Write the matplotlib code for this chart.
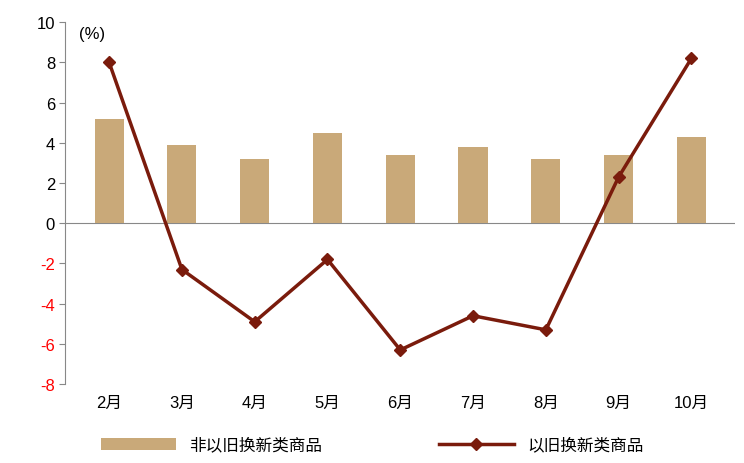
import matplotlib.pyplot as plt
import numpy as np

plt.rcParams['font.family'] = ['Liberation Sans', 'Noto Sans CJK SC', 'DejaVu Sans']

months = ['2月', '3月', '4月', '5月', '6月', '7月', '8月', '9月', '10月']
non_trade_in = [5.2, 3.9, 3.2, 4.5, 3.4, 3.8, 3.2, 3.4, 4.3]
trade_in = [8.0, -2.3, -4.9, -1.8, -6.3, -4.6, -5.3, 2.3, 8.2]
yticks = list(range(-8, 11, 2))

fig = plt.figure(figsize=(7.44, 4.64), dpi=100)
ax = fig.add_axes([0.088, 0.17, 0.9, 0.78])
x = np.arange(len(months))
bars = ax.bar(x, non_trade_in, width=0.4, color='#C9A979', label='非以旧换新类商品', zorder=2)
line, = ax.plot(x, trade_in, color='#7A1B0C', lw=2.5, marker='D', ms=6, label='以旧换新类商品', zorder=3)
ax.axhline(0, color='#888888', lw=0.8, zorder=1)

ax.set_ylim(-8, 10)
ax.set_yticks(yticks)
ax.set_yticklabels([str(v) for v in yticks], fontsize=12)
for lab, v in zip(ax.get_yticklabels(), yticks):
    if v < 0:
        lab.set_color('red')
ax.set_xlim(-0.6, len(months) - 0.4)
ax.set_xticks(x)
ax.set_xticklabels(months, fontsize=12)
ax.tick_params(axis='x', length=0, pad=8)
ax.tick_params(axis='y', direction='out', length=4, color='#888888')
for s in ['top', 'right', 'bottom']:
    ax.spines[s].set_visible(False)
ax.spines['left'].set_color('#888888')
ax.text(0.02, 0.99, '(%)', transform=ax.transAxes, fontsize=12, va='top')

fig.legend([bars, line], ['非以旧换新类商品', '以旧换新类商品'], loc='lower center', ncol=2,
           frameon=False, fontsize=12, bbox_to_anchor=(0.5, -0.01), columnspacing=7,
           handlelength=4.5)
fig.savefig('out.png')
